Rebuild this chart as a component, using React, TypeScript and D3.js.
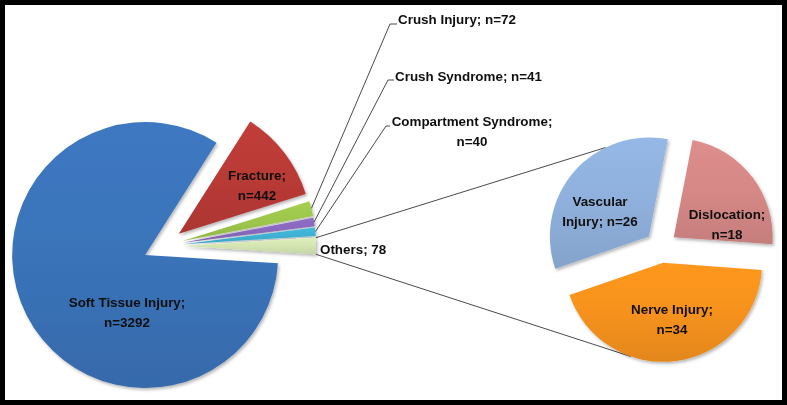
import React from 'react';
import * as d3 from 'd3';

// ---------- data ----------
const mainCategories = ['Others', 'Soft Tissue Injury', 'Fracture', 'Crush Injury', 'Crush Syndrome', 'Compartment Syndrome'];
const mainValues = [78, 3292, 442, 72, 41, 40];
const mainColors = ['#d4e5b2', '#3a73b9', '#b93a36', '#9dc64c', '#8968bd', '#3fb1d3'];

const subCategories = ['Dislocation', 'Nerve Injury', 'Vascular Injury'];
const subValues = [18, 34, 26];
const subColors = ['#d58886', '#f6921e', '#8fb0dc'];

// ---------- layout ----------
const W = 787;
const H = 405;
const C1: [number, number] = [163, 246];
const R1 = 133;
const EX1 = 20;
const C2: [number, number] = [661, 247];
const R2 = 99;
const EX2 = 16;
const SUB_START_DEG = 11;
const TOP_CONN_DEG = 334;
const BOT_CONN_DEG = 199;
const FONT = '"Liberation Sans", Arial, sans-serif';
const FS = 13.4;

const rad = (d: number) => (d * Math.PI) / 180;
const polar = (a: number, r: number): [number, number] => [Math.sin(a) * r, -Math.cos(a) * r];

export default function App() {
  const total = d3.sum(mainValues);
  const startMain = Math.PI / 2 - (mainValues[0] / total) * Math.PI;
  const mainPie = d3.pie<number>().sort(null).startAngle(startMain).endAngle(startMain + 2 * Math.PI);
  const mainArcs = mainPie(mainValues);
  const subPie = d3.pie<number>().sort(null).startAngle(rad(SUB_START_DEG)).endAngle(rad(SUB_START_DEG) + 2 * Math.PI);
  const subArcs = subPie(subValues);

  const arc1 = d3.arc<d3.PieArcDatum<number>>().innerRadius(0).outerRadius(R1);
  const arc2 = d3.arc<d3.PieArcDatum<number>>().innerRadius(0).outerRadius(R2);

  const apex = (a: d3.PieArcDatum<number>, c: [number, number], ex: number): [number, number] => {
    const mid = (a.startAngle + a.endAngle) / 2;
    const o = polar(mid, ex);
    return [c[0] + o[0], c[1] + o[1]];
  };

  // connectors
  const othersArc = mainArcs[0];
  const oApex = apex(othersArc, C1, EX1);
  const oTop = polar(othersArc.startAngle, R1);
  const oBot = polar(othersArc.endAngle, R1);
  const vascApex = apex(subArcs[2], C2, EX2);
  const nerveApex = apex(subArcs[1], C2, EX2);
  const pTop = polar(rad(TOP_CONN_DEG), R2);
  const pBot = polar(rad(BOT_CONN_DEG), R2);

  // label layouts (text positions)
  type Lab = { lines: string[]; x: number; y: number; anchor: string; leader?: [number, number, number] };
  const mainLabels: Lab[] = [
    { lines: [`${mainCategories[0]}; ${mainValues[0]}`], x: 320, y: 254, anchor: 'start' },
    { lines: [`${mainCategories[1]};`, `n=${mainValues[1]}`], x: 127, y: 307, anchor: 'middle' },
    { lines: [`${mainCategories[2]};`, `n=${mainValues[2]}`], x: 257, y: 180, anchor: 'middle' },
    { lines: [`${mainCategories[3]}; n=${mainValues[3]}`], x: 398, y: 23.5, anchor: 'start', leader: [390, 24, 397] },
    { lines: [`${mainCategories[4]}; n=${mainValues[4]}`], x: 395, y: 80.5, anchor: 'start', leader: [388, 80, 394] },
    { lines: [`${mainCategories[5]};`, `n=${mainValues[5]}`], x: 472, y: 126, anchor: 'middle', leader: [386, 126, 390] },
  ];
  const subLabels: Lab[] = [
    { lines: [`${subCategories[0]};`, `n=${subValues[0]}`], x: 727, y: 219, anchor: 'middle' },
    { lines: [`${subCategories[1]};`, `n=${subValues[1]}`], x: 672, y: 314, anchor: 'middle' },
    { lines: ['Vascular', `Injury; n=${subValues[2]}`], x: 600, y: 206, anchor: 'middle' },
  ];
  const LH = 19.5;

  const gradStops = (col: string) => {
    const c = d3.color(col)!;
    return [
      { o: 0, c: c.brighter(0.12).formatHex() },
      { o: 0.5, c: col },
      { o: 1, c: c.darker(0.22).formatHex() },
    ];
  };

  const renderLabel = (l: Lab, i: number, key: string) => (
    <text key={key + i} x={l.x} y={l.y} textAnchor={l.anchor as any} fontFamily={FONT} fontWeight="bold" fontSize={FS} fill="#0f0f0f">
      {l.lines.map((t, j) => (
        <tspan key={j} x={l.x} dy={j === 0 ? 0 : LH}>{t}</tspan>
      ))}
    </text>
  );

  return (
    <svg width={W} height={H} style={{ position: 'absolute', left: 0, top: 0, background: '#fff' }}>
      <defs>
        <filter id="sh" x="-20%" y="-20%" width="140%" height="140%">
          <feDropShadow dx="1.5" dy="2" stdDeviation="1.5" floodColor="#000" floodOpacity="0.28" />
        </filter>
        {mainColors.map((col, i) => (
          <linearGradient key={'gm' + i} id={'gm' + i} x1="0" y1="0" x2="0" y2="1">
            {gradStops(col).map((s, j) => <stop key={j} offset={s.o} stopColor={s.c} />)}
          </linearGradient>
        ))}
        {subColors.map((col, i) => (
          <linearGradient key={'gs' + i} id={'gs' + i} x1="0" y1="0" x2="0" y2="1">
            {gradStops(col).map((s, j) => <stop key={j} offset={s.o} stopColor={s.c} />)}
          </linearGradient>
        ))}
      </defs>
      <rect x={0} y={0} width={W} height={H} fill="#fff" />

      {/* connector lines */}
      <g stroke="#4a4a4a" strokeWidth={1} fill="none">
        <line x1={oApex[0] + oTop[0]} y1={oApex[1] + oTop[1]} x2={vascApex[0] + pTop[0]} y2={vascApex[1] + pTop[1]} />
        <line x1={oApex[0] + oBot[0]} y1={oApex[1] + oBot[1]} x2={nerveApex[0] + pBot[0]} y2={nerveApex[1] + pBot[1]} />
        {mainLabels.map((l, i) => {
          if (!l.leader) return null;
          const a = mainArcs[i];
          const ap = apex(a, C1, EX1);
          const tip = polar((a.startAngle + a.endAngle) / 2, R1);
          return (
            <polyline key={'ld' + i} points={`${ap[0] + tip[0]},${ap[1] + tip[1]} ${l.leader[0]},${l.leader[1]} ${l.leader[2]},${l.leader[1]}`} />
          );
        })}
      </g>

      {/* main pie */}
      <g filter="url(#sh)">
        {mainArcs.map((a, i) => {
          const ap = apex(a, C1, EX1);
          return <path key={'m' + i} d={arc1(a)!} transform={`translate(${ap[0]},${ap[1]})`} fill={`url(#gm${i})`} />;
        })}
      </g>
      {/* sub pie */}
      <g filter="url(#sh)">
        {subArcs.map((a, i) => {
          const ap = apex(a, C2, EX2);
          return <path key={'s' + i} d={arc2(a)!} transform={`translate(${ap[0]},${ap[1]})`} fill={`url(#gs${i})`} />;
        })}
      </g>

      {mainLabels.map((l, i) => renderLabel(l, i, 'ml'))}
      {subLabels.map((l, i) => renderLabel(l, i, 'sl'))}

      <rect x={2.5} y={2.5} width={W - 5} height={H - 5} fill="none" stroke="#000" strokeWidth={5} />
    </svg>
  );
}
